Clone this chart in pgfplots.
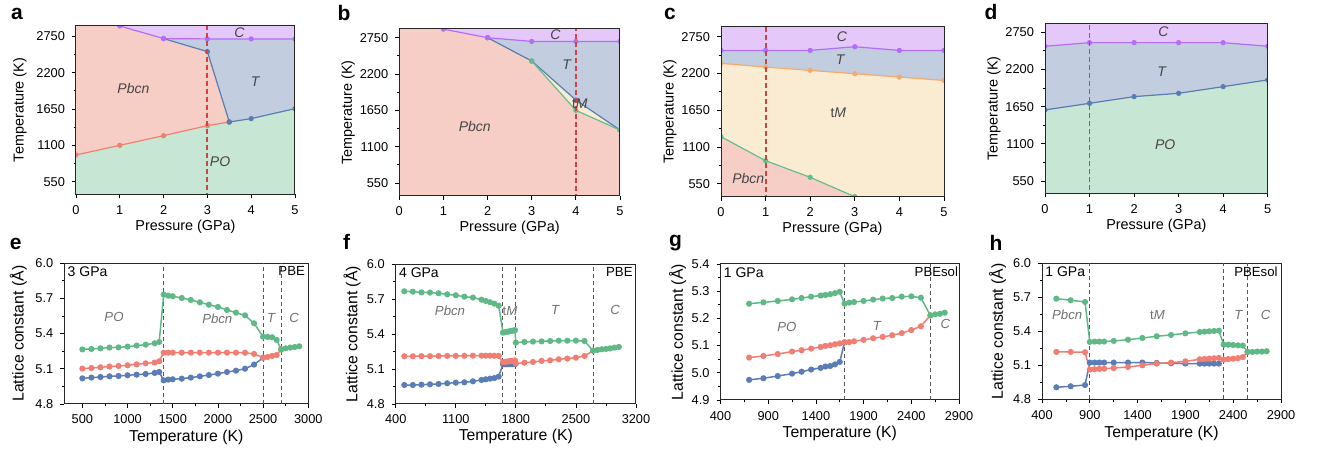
\documentclass[border=0pt]{standalone}
\usepackage{pgfplots}
\pgfplotsset{compat=1.18}
\usepackage{fontspec}
\setmainfont{Liberation Sans}
\definecolor{rPink}{HTML}{F7CEC6}
\definecolor{rGreen}{HTML}{C8E6D4}
\definecolor{rBlue}{HTML}{C2CDE0}
\definecolor{rPurple}{HTML}{E4C8FA}
\definecolor{rYellow}{HTML}{FAECD2}
\definecolor{lRed}{HTML}{F08070}
\definecolor{lBlue}{HTML}{5A7DB4}
\definecolor{lPurple}{HTML}{B46EF5}
\definecolor{lOrange}{HTML}{F5AA6E}
\definecolor{lGreen}{HTML}{64BE8C}
\definecolor{dRed}{HTML}{CC4444}
\definecolor{sGreen}{HTML}{5FB987}
\definecolor{sRed}{HTML}{F07E72}
\definecolor{sBlue}{HTML}{5A7DB6}
\definecolor{txtGray}{HTML}{454545}
\definecolor{txtGrayB}{HTML}{707070}
\definecolor{dGray}{HTML}{555555}

\pgfplotsset{
  mybase/.style={scale only axis, anchor=north west, tick align=outside, tick pos=left,
    major tick length=2pt, minor tick length=1.2pt,
    every tick/.style={black, line width=0.4pt},
    axis line style={line width=0.5pt, black!85},
    tick label style={font=\fontsize{6.4}{7}\selectfont},
    label style={font=\fontsize{7.2}{8}\selectfont},
    /pgf/number format/assume math mode=true,
    /pgf/number format/1000 sep={},
  },
  toppanel/.style={mybase, xmin=0, xmax=5, xtick={0,1,2,3,4,5},
    ytick={550,1100,1650,2200,2750}, minor ytick={825,1375,1925,2475},
    xlabel={Pressure (GPa)}, ylabel={Temperature (K)}, axis on top, clip marker paths=true,
    xlabel style={at={(axis description cs:0.5,-0.19)}, anchor=center}},
  reg/.style={draw=none, fill=#1, forget plot},
  bnd/.style={color=#1, line width=0.6pt, mark=*, mark size=1pt, mark options={solid, fill=#1, draw=#1}},
  botpanel/.style={mybase, ylabel={Lattice constant (Å)}, xlabel={Temperature (K)},
    label style={font=\fontsize{7.9}{9}\selectfont}, minor x tick num=1, minor y tick num=1,
    yticklabel style={/pgf/number format/.cd, fixed, fixed zerofill, precision=1}},
  ser/.style={color=#1, line width=0.75pt, mark=*, mark size=1.15pt, mark options={solid, fill=#1, draw=#1}},
  vdash/.style={dGray, line width=0.5pt, dash pattern=on 2pt off 1.5pt, forget plot},
  rdash/.style={dRed, line width=0.95pt, dash pattern=on 2.5pt off 1.5pt, forget plot},
}
\newcommand{\rl}[1]{\fontsize{7}{8}\selectfont\color{txtGray}#1}
\newcommand{\bl}[1]{\fontsize{6.6}{8}\selectfont\color{txtGrayB}#1}

\begin{document}
\begin{tikzpicture}
\useasboundingbox (0,0) rectangle (658.5pt,-229pt);

% ---------------- panel a ----------------
\begin{axis}[toppanel, at={(38pt,-12.85pt)}, width=109.5pt, height=84.3pt, ymin=359, ymax=2910,
  ylabel style={at={(axis description cs:-0.256,0.5)}, anchor=center}]
\addplot[reg=rPink] coordinates {(0,300) (0,3000) (5,3000) (5,300)};
\addplot[reg=rGreen] coordinates {(0,300) (0,954) (1,1100) (2,1246) (3,1398) (3.5,1453) (4,1504) (5,1655) (5,300)};
\addplot[reg=rBlue] coordinates {(2,2715) (3,2518) (3.5,1453) (4,1504) (5,1655) (5,2710) (4,2710) (3,2710)};
\addplot[reg=rPurple] coordinates {(1,2910) (2,2715) (3,2710) (4,2710) (5,2710) (5,3000) (1,3000)};
\addplot[bnd=lRed] coordinates {(0,954) (1,1100) (2,1246) (3,1398) (3.5,1453)};
\addplot[bnd=lBlue] coordinates {(3.5,1453) (4,1504) (5,1655)};
\addplot[bnd=lBlue] coordinates {(2,2715) (3,2518) (3.5,1453)};
\addplot[bnd=lPurple] coordinates {(1,2905) (2,2715) (3,2710) (4,2710) (5,2710)};
\addplot[rdash] coordinates {(3,300) (3,3000)};
\node at (axis cs:3.73,2810) {\rl{\itshape C}};
\node at (axis cs:1.31,1963) {\rl{\itshape Pbcn}};
\node at (axis cs:4.09,2064) {\rl{\itshape T}};
\node at (axis cs:3.29,853) {\rl{\itshape PO}};
\node[anchor=south east, inner sep=1.2pt, font=\fontsize{6.4}{7}\selectfont] at (rel axis cs:1,1) {PBE};
\end{axis}

% ---------------- panel b ----------------
\begin{axis}[toppanel, at={(199.65pt,-14.5pt)}, width=110.35pt, height=83.5pt, ymin=353, ymax=2882,
  ylabel style={at={(axis description cs:-0.232,0.5)}, anchor=center}]
\addplot[reg=rPink] coordinates {(0,300) (0,3000) (5,3000) (5,300)};
\addplot[reg=rBlue] coordinates {(2,2750) (3,2397) (4,1806) (5,1352) (5,2694) (4,2694) (3,2694)};
\addplot[reg=rYellow] coordinates {(3,2397) (4,1806) (5,1352) (4,1650)};
\addplot[reg=rPurple] coordinates {(1,2880) (2,2750) (3,2694) (4,2694) (5,2694) (5,3000) (1,3000)};
\addplot[bnd=lBlue] coordinates {(2,2750) (3,2397) (4,1806) (5,1352)};
\addplot[bnd=lGreen] coordinates {(3,2397) (4,1650) (5,1352)};
\addplot[bnd=lPurple] coordinates {(1,2880) (2,2750) (3,2694) (4,2694) (5,2694)};
\addplot[rdash] coordinates {(4,300) (4,3000)};
\node at (axis cs:3.54,2790) {\rl{\itshape C}};
\node at (axis cs:3.79,2346) {\rl{\itshape T}};
\node at (axis cs:4.09,1746) {\rl{t\textit{M}}};
\node at (axis cs:1.71,1413) {\rl{\itshape Pbcn}};
\node[anchor=south east, inner sep=1.2pt, font=\fontsize{6.4}{7}\selectfont] at (rel axis cs:1,1) {PBE};
\end{axis}

% ---------------- panel c ----------------
\begin{axis}[toppanel, at={(360.5pt,-13.35pt)}, width=111.5pt, height=85pt, ymin=355, ymax=2900,
  ylabel style={at={(axis description cs:-0.229,0.5)}, anchor=center}]
\addplot[reg=rPink] coordinates {(0,300) (0,3000) (5,3000) (5,300)};
\addplot[reg=rYellow] coordinates {(0,2351) (1,2296) (2,2246) (3,2196) (4,2146) (5,2096) (5,300) (3.02,300) (3,355) (2,645) (1,894) (0,1253)};
\addplot[reg=rBlue] coordinates {(0,2545) (1,2545) (2,2545) (3,2600) (4,2545) (5,2545) (5,2096) (4,2146) (3,2196) (2,2246) (1,2296) (0,2351)};
\addplot[reg=rPurple] coordinates {(0,3000) (5,3000) (5,2545) (4,2545) (3,2600) (2,2545) (1,2545) (0,2545)};
\addplot[bnd=lGreen] coordinates {(0,1253) (1,894) (2,645) (3,355)};
\addplot[bnd=lOrange] coordinates {(0,2351) (1,2296) (2,2246) (3,2196) (4,2146) (5,2096)};
\addplot[bnd=lPurple] coordinates {(0,2545) (1,2545) (2,2545) (3,2600) (4,2545) (5,2545)};
\addplot[rdash] coordinates {(1,300) (1,3000)};
\node at (axis cs:2.71,2750) {\rl{\itshape C}};
\node at (axis cs:2.67,2401) {\rl{\itshape T}};
\node at (axis cs:2.63,1613) {\rl{t\textit{M}}};
\node at (axis cs:0.61,630) {\rl{\itshape Pbcn}};
\node[anchor=south east, inner sep=1.2pt, font=\fontsize{6.4}{7}\selectfont] at (rel axis cs:1,1) {PBEsol};
\end{axis}

% ---------------- panel d ----------------
\begin{axis}[toppanel, at={(522.5pt,-11.65pt)}, width=111.35pt, height=85pt, ymin=368, ymax=2883,
  ylabel style={at={(axis description cs:-0.229,0.5)}, anchor=center}]
\addplot[reg=rGreen] coordinates {(0,300) (0,3000) (5,3000) (5,300)};
\addplot[reg=rBlue] coordinates {(0,1601) (1,1699) (2,1798) (3,1847) (4,1946) (5,2045) (5,2543) (4,2597) (3,2597) (2,2597) (1,2597) (0,2543)};
\addplot[reg=rPurple] coordinates {(0,3000) (5,3000) (5,2543) (4,2597) (3,2597) (2,2597) (1,2597) (0,2543)};
\addplot[bnd=lBlue] coordinates {(0,1601) (1,1699) (2,1798) (3,1847) (4,1946) (5,2045)};
\addplot[bnd=lPurple] coordinates {(0,2543) (1,2597) (2,2597) (3,2597) (4,2597) (5,2543)};
\addplot[rdash, line width=0.7pt] coordinates {(1,300) (1,3000)};
\node at (axis cs:2.66,2760) {\rl{\itshape C}};
\node at (axis cs:2.62,2168) {\rl{\itshape T}};
\node at (axis cs:2.70,1083) {\rl{\itshape PO}};
\node[anchor=south east, inner sep=1.2pt, font=\fontsize{6.4}{7}\selectfont] at (rel axis cs:1,1) {PBEsol};
\end{axis}

% ---------------- panel e ----------------
\begin{axis}[botpanel, at={(32.15pt,-131.65pt)}, width=122pt, height=70.35pt,
  xmin=300, xmax=3000, xtick={500,1000,1500,2000,2500,3000},
  ymin=4.8, ymax=6.0, ytick={4.8,5.1,5.4,5.7,6.0},
  ylabel style={at={(axis description cs:-0.1885,0.5)}, anchor=center},
  xlabel style={at={(axis description cs:0.5,-0.235)}, anchor=center}]
\addplot[vdash] coordinates {(1400,4.8) (1400,6.0)};
\addplot[vdash] coordinates {(2500,4.8) (2500,6.0)};
\addplot[vdash] coordinates {(2700,4.8) (2700,6.0)};
\addplot[ser=sBlue] coordinates {(500,5.019) (600,5.025) (700,5.030) (800,5.036) (900,5.039) (1000,5.045) (1100,5.050) (1200,5.056) (1300,5.065) (1350,5.073) (1400,5.002) (1450,5.008) (1500,5.011) (1600,5.016) (1700,5.025) (1800,5.036) (1900,5.047) (2000,5.059) (2100,5.073) (2200,5.084) (2300,5.101) (2400,5.136) (2500,5.195)};
\addplot[ser=sRed] coordinates {(500,5.102) (600,5.107) (700,5.113) (800,5.119) (900,5.124) (1000,5.130) (1100,5.138) (1200,5.147) (1300,5.153) (1350,5.164) (1400,5.238) (1450,5.238) (1500,5.238) (1600,5.238) (1700,5.238) (1800,5.238) (1900,5.238) (2000,5.238) (2100,5.238) (2200,5.238) (2300,5.237) (2400,5.227) (2500,5.195) (2550,5.201) (2600,5.210) (2650,5.218) (2700,5.266)};
\addplot[ser=sGreen] coordinates {(500,5.266) (600,5.269) (700,5.275) (800,5.281) (900,5.283) (1000,5.289) (1100,5.298) (1200,5.306) (1300,5.318) (1350,5.329) (1400,5.733) (1450,5.724) (1500,5.719) (1600,5.704) (1700,5.687) (1800,5.667) (1900,5.647) (2000,5.628) (2100,5.602) (2200,5.579) (2300,5.556) (2400,5.488) (2500,5.374) (2550,5.372) (2600,5.369) (2650,5.346) (2700,5.266) (2750,5.275) (2800,5.281) (2850,5.286) (2900,5.292)};
\node at (axis cs:850,5.54) {\bl{\itshape PO}};
\node at (axis cs:1993,5.53) {\bl{\itshape Pbcn}};
\node at (axis cs:2590,5.53) {\bl{\itshape T}};
\node at (axis cs:2842,5.53) {\bl{\itshape C}};
\node[anchor=north west, inner sep=1.5pt, font=\fontsize{7}{8}\selectfont] at (rel axis cs:0,1) {3 GPa};
\node[anchor=north east, inner sep=1.5pt, font=\fontsize{6.6}{8}\selectfont] at (rel axis cs:1,1) {PBE};
\end{axis}

% ---------------- panel f ----------------
\begin{axis}[botpanel, at={(197.85pt,-132.15pt)}, width=120.15pt, height=69.85pt,
  xmin=400, xmax=3200, xtick={400,1100,1800,2500,3200},
  ymin=4.8, ymax=6.0, ytick={4.8,5.1,5.4,5.7,6.0},
  ylabel style={at={(axis description cs:-0.181,0.5)}, anchor=center},
  xlabel style={at={(axis description cs:0.5,-0.234)}, anchor=center}]
\addplot[vdash] coordinates {(1650,4.8) (1650,6.0)};
\addplot[vdash] coordinates {(1800,4.8) (1800,6.0)};
\addplot[vdash] coordinates {(2700,4.8) (2700,6.0)};
\addplot[ser=sBlue] coordinates {(500,4.963) (600,4.963) (700,4.966) (800,4.969) (900,4.972) (1000,4.978) (1100,4.983) (1200,4.986) (1300,4.995) (1400,5.006) (1450,5.012) (1500,5.018) (1550,5.023) (1600,5.035) (1650,5.141) (1670,5.142) (1690,5.142) (1710,5.142) (1730,5.143) (1750,5.143) (1770,5.143) (1790,5.143)};
\addplot[ser=sRed] coordinates {(500,5.210) (600,5.210) (700,5.211) (800,5.211) (900,5.212) (1000,5.213) (1100,5.213) (1200,5.214) (1300,5.215) (1400,5.215) (1450,5.215) (1500,5.215) (1550,5.214) (1600,5.213) (1650,5.160) (1670,5.162) (1690,5.164) (1710,5.166) (1730,5.168) (1750,5.170) (1770,5.172) (1790,5.174) (1800,5.147) (1900,5.155) (2000,5.161) (2100,5.170) (2200,5.175) (2300,5.184) (2400,5.190) (2500,5.198) (2600,5.212) (2700,5.258)};
\addplot[ser=sGreen] coordinates {(500,5.768) (600,5.765) (700,5.759) (800,5.757) (900,5.751) (1000,5.742) (1100,5.734) (1200,5.722) (1300,5.714) (1400,5.696) (1450,5.685) (1500,5.674) (1550,5.662) (1600,5.645) (1650,5.413) (1670,5.416) (1690,5.419) (1710,5.422) (1730,5.425) (1750,5.428) (1770,5.431) (1790,5.434) (1800,5.327) (1900,5.333) (2000,5.336) (2100,5.338) (2200,5.341) (2300,5.344) (2400,5.344) (2500,5.344) (2600,5.341) (2700,5.258) (2750,5.264) (2800,5.270) (2850,5.273) (2900,5.278) (2950,5.284) (3000,5.290)};
\node at (axis cs:1033,5.60) {\bl{\itshape Pbcn}};
\node at (axis cs:1732,5.60) {\bl{t\textit{M}}};
\node at (axis cs:2257,5.61) {\bl{\itshape T}};
\node at (axis cs:2956,5.61) {\bl{\itshape C}};
\node[anchor=north west, inner sep=1.5pt, font=\fontsize{7}{8}\selectfont] at (rel axis cs:0,1) {4 GPa};
\node[anchor=north east, inner sep=1.5pt, font=\fontsize{6.6}{8}\selectfont] at (rel axis cs:1,1) {PBE};
\end{axis}

% ---------------- panel g ----------------
\begin{axis}[botpanel, at={(360.25pt,-132pt)}, width=119.25pt, height=68pt,
  xmin=400, xmax=2900, xtick={400,900,1400,1900,2400,2900},
  ymin=4.9, ymax=5.4, ytick={4.9,5.0,5.1,5.2,5.3,5.4},
  ylabel style={at={(axis description cs:-0.18,0.5)}, anchor=center},
  xlabel style={at={(axis description cs:0.5,-0.243)}, anchor=center}]
\addplot[vdash] coordinates {(1700,4.9) (1700,5.4)};
\addplot[vdash] coordinates {(2600,4.9) (2600,5.4)};
\addplot[ser=sBlue] coordinates {(700,4.974) (850,4.980) (1000,4.988) (1150,4.997) (1250,5.004) (1350,5.012) (1450,5.018) (1500,5.023) (1550,5.025) (1600,5.031) (1650,5.040) (1700,5.112)};
\addplot[ser=sRed] coordinates {(700,5.056) (850,5.062) (1000,5.069) (1150,5.078) (1250,5.083) (1350,5.089) (1450,5.095) (1500,5.099) (1550,5.101) (1600,5.105) (1650,5.108) (1700,5.112) (1750,5.113) (1800,5.116) (1900,5.121) (2000,5.127) (2100,5.132) (2200,5.138) (2300,5.146) (2400,5.157) (2500,5.171) (2600,5.211)};
\addplot[ser=sGreen] coordinates {(700,5.254) (850,5.259) (1000,5.264) (1150,5.270) (1250,5.275) (1350,5.280) (1450,5.284) (1500,5.286) (1550,5.289) (1600,5.293) (1650,5.298) (1700,5.254) (1750,5.258) (1800,5.260) (1900,5.264) (2000,5.269) (2100,5.273) (2200,5.275) (2300,5.280) (2400,5.281) (2500,5.276) (2600,5.211) (2650,5.215) (2700,5.217) (2750,5.221)};
\node at (axis cs:1095,5.168) {\bl{\itshape PO}};
\node at (axis cs:2040,5.172) {\bl{\itshape T}};
\node at (axis cs:2758,5.178) {\bl{\itshape C}};
\node[anchor=north west, inner sep=1.5pt, font=\fontsize{7}{8}\selectfont] at (rel axis cs:0,1) {1 GPa};
\node[anchor=north east, inner sep=0.3pt, yshift=-1.2pt, font=\fontsize{6.6}{8}\selectfont] at (rel axis cs:1,1) {PBEsol};
\end{axis}

% ---------------- panel h ----------------
\begin{axis}[botpanel, at={(521pt,-131.65pt)}, width=119.5pt, height=68pt,
  xmin=400, xmax=2900, xtick={400,900,1400,1900,2400,2900},
  ymin=4.8, ymax=6.0, ytick={4.8,5.1,5.4,5.7,6.0},
  ylabel style={at={(axis description cs:-0.186,0.5)}, anchor=center},
  xlabel style={at={(axis description cs:0.5,-0.25)}, anchor=center}]
\addplot[vdash] coordinates {(900,4.8) (900,6.0)};
\addplot[vdash] coordinates {(2300,4.8) (2300,6.0)};
\addplot[vdash] coordinates {(2550,4.8) (2550,6.0)};
\addplot[ser=sBlue] coordinates {(550,4.906) (700,4.915) (850,4.926) (900,5.124) (950,5.124) (1000,5.124) (1050,5.124) (1150,5.124) (1300,5.124) (1450,5.124) (1600,5.121) (1750,5.118) (1900,5.115) (2050,5.115) (2100,5.115) (2150,5.115) (2200,5.115) (2250,5.115)};
\addplot[ser=sRed] coordinates {(550,5.218) (700,5.218) (850,5.215) (900,5.062) (950,5.065) (1000,5.068) (1050,5.070) (1150,5.076) (1300,5.085) (1450,5.100) (1600,5.115) (1750,5.124) (1900,5.135) (2050,5.153) (2100,5.156) (2150,5.159) (2200,5.162) (2250,5.165) (2300,5.150) (2350,5.155) (2400,5.158) (2450,5.163) (2500,5.172) (2550,5.218)};
\addplot[ser=sGreen] coordinates {(550,5.688) (700,5.674) (850,5.659) (900,5.306) (950,5.309) (1000,5.309) (1050,5.309) (1150,5.315) (1300,5.326) (1450,5.341) (1600,5.356) (1750,5.368) (1900,5.382) (2050,5.394) (2100,5.397) (2150,5.400) (2200,5.403) (2250,5.406) (2300,5.282) (2350,5.282) (2400,5.279) (2450,5.276) (2500,5.274) (2550,5.218) (2600,5.218) (2650,5.221) (2700,5.221) (2750,5.224)};
\node at (axis cs:663,5.547) {\bl{\itshape Pbcn}};
\node at (axis cs:1608,5.547) {\bl{t\textit{M}}};
\node at (axis cs:2455,5.547) {\bl{\itshape T}};
\node at (axis cs:2738,5.547) {\bl{\itshape C}};
\node[anchor=north west, inner sep=1.5pt, font=\fontsize{7}{8}\selectfont] at (rel axis cs:0,1) {1 GPa};
\node[anchor=north east, inner sep=1.5pt, font=\fontsize{6.6}{8}\selectfont] at (rel axis cs:1,1) {PBEsol};
\end{axis}

% panel letters
\begin{scope}[every node/.style={font=\bfseries\fontsize{10.5}{12}\selectfont, anchor=base, inner sep=0pt}]
\node at (8.5pt,-9.75pt) {a};
\node at (172pt,-10.3pt) {b};
\node at (335pt,-9.7pt) {c};
\node at (495.5pt,-10pt) {d};
\node at (7.85pt,-125pt) {e};
\node at (173.3pt,-125pt) {f};
\node at (337.75pt,-123.3pt) {g};
\node at (498pt,-125.5pt) {h};
\end{scope}
\end{tikzpicture}
\end{document}
